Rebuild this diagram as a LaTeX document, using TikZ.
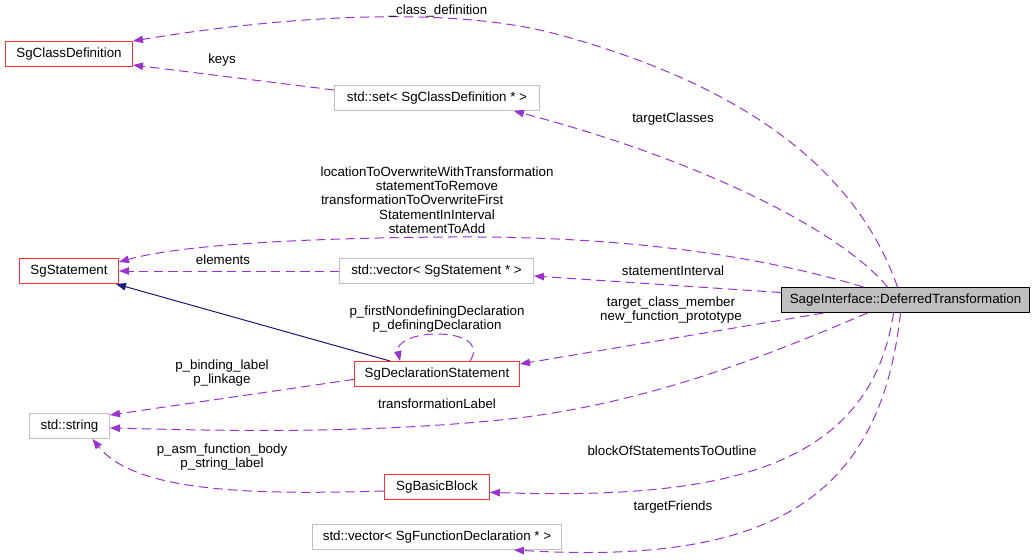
\documentclass[tikz,border=0pt]{standalone}
\usepackage{fontspec}
\setmainfont{Liberation Sans}
\usetikzlibrary{arrows.meta}
\definecolor{edgepurple}{HTML}{9A32CD}
\definecolor{navyedge}{HTML}{191970}
\definecolor{boxred}{HTML}{FF3030}
\definecolor{boxgray}{HTML}{BFBFBF}
\begin{document}
\begin{tikzpicture}[x=0.75pt,y=-0.75pt,
  font=\fontsize{10}{10.7}\selectfont,
  box/.style={draw, line width=0.75pt, minimum height=18.75pt, inner sep=0pt, anchor=north west},
  redbox/.style={box, draw=boxred},
  graybox/.style={box, draw=boxgray},
  mainbox/.style={box, draw=black, fill=boxgray},
  dep/.style={draw=edgepurple, line width=0.75pt, dash pattern=on 7pt off 4pt,
    -{Triangle[length=7.5pt,width=5.6pt]}},
  inh/.style={draw=navyedge, line width=0.75pt, -{Triangle[length=7.5pt,width=5.6pt]}},
  lbl/.style={align=center, inner sep=0pt}]
\useasboundingbox (0,0) rectangle (1035,560);

% nodes
\node[redbox, minimum width=95.25pt] (cls) at (5,41) {SgClassDefinition};
\node[graybox, minimum width=153.75pt] (set) at (334,85) {std::set< SgClassDefinition * >};
\node[redbox, minimum width=74.25pt] (stmt) at (19,258) {SgStatement};
\node[graybox, minimum width=145.5pt] (vec) at (339,258) {std::vector< SgStatement * >};
\node[mainbox, minimum width=186pt] (def) at (781,287) {SageInterface::DeferredTransformation};
\node[redbox, minimum width=123.75pt] (decl) at (354,361) {SgDeclarationStatement};
\node[graybox, minimum width=60pt] (str) at (29,413) {std::string};
\node[redbox, minimum width=78.75pt] (bb) at (384,474) {SgBasicBlock};
\node[graybox, minimum width=186.75pt] (fv) at (312,524) {std::vector< SgFunctionDeclaration * >};

% edges
\draw[dep] ([xshift=-6pt]def.north) .. controls (860,180) and (760,90) .. (560,35)
  .. controls (440,2) and (260,20) .. (cls.north east);
\draw[dep] ([yshift=6pt]set.west) -- ([yshift=1.5pt]cls.south east);
\draw[dep] ([xshift=-13.5pt]def.north) .. controls (840,230) and (700,160) .. ([xshift=-19.5pt]set.south east);
\draw[dep] ([xshift=-31.5pt]def.north) .. controls (740,250) and (600,236) .. (450,237)
  .. controls (300,238) and (180,245) .. ([yshift=-3pt]stmt.north east);
\draw[dep] (vec.west) -- (stmt.east);
\draw[dep] ([yshift=5.6pt]def.west) -- ([yshift=-3.75pt]vec.east);
\draw[inh] ([xshift=27pt]decl.north west) -- ([xshift=-2.25pt]stmt.south east);
\draw[dep] ([xshift=87pt]decl.north west) .. controls (482,343) and (462,334) .. (437,334)
  .. controls (412,334) and (396,343) .. ([xshift=34.5pt]decl.north west);
\draw[dep] ([xshift=-61.5pt]def.south) -- ([yshift=-2.25pt]decl.north east);
\draw[dep] ([xshift=-28.5pt]def.south) .. controls (780,350) and (650,405) .. (500,420)
  .. controls (350,435) and (200,430) .. ([yshift=-1.5pt]str.east);
\draw[dep] ([yshift=-4pt]decl.west) -- ([yshift=-1.5pt]str.north east);
\draw[dep] ([yshift=-3pt]bb.west) .. controls (250,495) and (135,492) .. ([xshift=17.25pt]str.south);
\draw[dep] ([xshift=-9pt]def.south) .. controls (870,470) and (720,500) .. ([yshift=-4pt]bb.east);
\draw[dep] ([xshift=-3.75pt]def.south) .. controls (880,500) and (770,565) .. ([xshift=-36pt]fv.south east);

% labels
\node[lbl] (l1) at (438,11) {\_class\_definition};
\node[lbl] (l2) at (222,60) {keys};
\node[lbl] (l3) at (673,119) {targetClasses};
\node[lbl] (l4) at (437,200) {locationToOverwriteWithTransformation\\statementToRemove\\\makebox[174pt][l]{transformationToOverwriteFirst}\\StatementInInterval\\statementToAdd};
\node[lbl] (l5) at (223,260) {elements};
\node[lbl] (l6) at (673,271) {statementInterval};
\node[lbl] (l7) at (437,319) {p\_firstNondefiningDeclaration\\p\_definingDeclaration};
\node[lbl] (l8) at (671,310) {target\_class\_member\\new\_function\_prototype};
\node[lbl] (l9) at (222,373) {p\_binding\_label\\p\_linkage};
\node[lbl] (l10) at (437,404) {transformationLabel};
\node[lbl] (l11) at (222,457) {p\_asm\_function\_body\\p\_string\_label};
\node[lbl] (l12) at (672,451) {blockOfStatementsToOutline};
\node[lbl] (l13) at (673,507) {targetFriends};
\end{tikzpicture}
\end{document}
